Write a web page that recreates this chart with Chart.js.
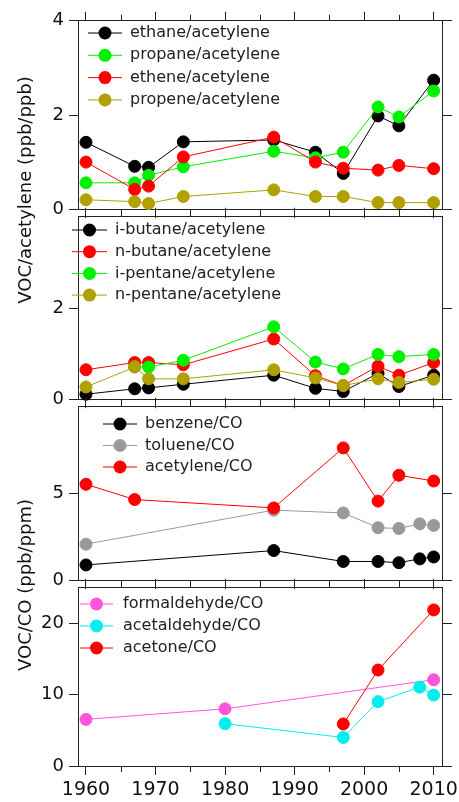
<!DOCTYPE html>
<html>
<head>
<meta charset="utf-8">
<script src="https://cdn.jsdelivr.net/npm/chart.js@4.4.0/dist/chart.umd.min.js"></script>
<style>
  body { margin: 0; background: #fff; width: 459px; height: 802px; overflow: hidden; position: relative; font-family: "DejaVu Sans", sans-serif; }
  canvas { position: absolute; left: 0; }
  .ytitle { position: absolute; font-size: 18px; color: #111; white-space: nowrap; transform: translate(-50%, -50%) rotate(-90deg); }
</style>
</head>
<body>
<canvas id="p1" width="459" height="220" style="top:5px"></canvas>
<canvas id="p2" width="459" height="214" style="top:201px"></canvas>
<canvas id="p3" width="459" height="205" style="top:391px"></canvas>
<canvas id="p4" width="459" height="230" style="top:572px"></canvas>
<div class="ytitle" style="left:24px; top:190px">VOC/acetylene (ppb/ppb)</div>
<div class="ytitle" style="left:24px; top:585px">VOC/CO (ppb/ppm)</div>
<script>
// shared x axis
const xTicks = [1960, 1970, 1980, 1990, 2000, 2010];
const xMinorTicks = [1965, 1975, 1985, 1995, 2005];

// panel 1 + 2: hydrocarbons vs acetylene
const hcYears = [1960, 1967, 1969, 1974, 1987, 1993, 1997, 2002, 2005, 2010];
const ethane  = [1.42, 0.91, 0.89, 1.43, 1.47, 1.21, 0.76, 1.98, 1.77, 2.74];
const propane = [0.56, 0.56, 0.72, 0.90, 1.23, 1.09, 1.21, 2.17, 1.96, 2.51];
const ethene  = [1.00, 0.42, 0.49, 1.11, 1.53, 1.00, 0.87, 0.83, 0.93, 0.86];
const propene = [0.20, 0.16, 0.12, 0.27, 0.41, 0.27, 0.27, 0.14, 0.14, 0.14];

const iButane  = [0.11, 0.23, 0.25, 0.33, 0.53, 0.24, 0.17, 0.57, 0.28, 0.53];
const nButane  = [0.65, 0.81, 0.81, 0.76, 1.33, 0.52, 0.30, 0.73, 0.53, 0.81];
const iPentane = [null, 0.72, 0.71, 0.86, 1.60, 0.82, 0.67, 0.99, 0.94, 0.99];
const nPentane = [0.27, 0.71, 0.45, 0.45, 0.65, 0.47, 0.30, 0.45, 0.37, 0.44];

// panel 3: aromatics / acetylene vs CO
const aroYears  = [1960, 1967, 1987, 1997, 2002, 2005, 2008, 2010];
const benzene   = [0.88, null, 1.71, 1.08, 1.08, 1.01, 1.23, 1.34];
const toluene   = [2.08, null, 4.04, 3.88, 3.03, 2.98, 3.25, 3.16];
const acetylene = [5.53, 4.65, 4.17, 7.63, 4.56, 6.05, null, 5.72];

// panel 4: oxygenates vs CO
const oxyYears     = [1960, 1980, 1997, 2002, 2008, 2010];
const formaldehyde = [6.54, 8.02, null, null, null, 12.1];
const acetaldehyde = [null, 5.94, 4.0, 9.03, 11.06, 9.95];
const acetone      = [null, null, 5.9, 13.46, null, 21.9];

const X_MIN = 1958.85, X_MAX = 2011.2;
const AXIS = '#222';

function toPoints(years, vals) {
    return years.map((yr, i) => ({ x: yr, y: vals[i] })).filter(p => p.y !== null);
}

// line + marker legend drawn inside the plot, like the original
const lineLegend = {
    id: 'lineLegend',
    afterDraw(chart, args, opts) {
        const ctx = chart.ctx;
        ctx.save();
        ctx.font = '16px "DejaVu Sans"';
        ctx.textBaseline = 'middle';
        chart.data.datasets.forEach((ds, i) => {
            const y = opts.y + i * opts.dy;
            ctx.strokeStyle = ds.borderColor;
            ctx.lineWidth = 1;
            ctx.beginPath();
            ctx.moveTo(opts.x1, y);
            ctx.lineTo(opts.x2, y);
            ctx.stroke();
            ctx.fillStyle = ds.borderColor;
            ctx.beginPath();
            ctx.arc((opts.x1 + opts.x2) / 2, y, 6.5, 0, Math.PI * 2);
            ctx.fill();
            ctx.fillStyle = '#222';
            ctx.fillText(ds.label, opts.tx, y);
        });
        ctx.restore();
    }
};

// short ticks every 5 years on top and bottom edges
const minorTicks = {
    id: 'minorTicks',
    afterDraw(chart) {
        const { ctx, chartArea: a } = chart;
        const x = chart.scales.x;
        ctx.save();
        ctx.strokeStyle = AXIS;
        ctx.lineWidth = 1;
        xMinorTicks.forEach(v => {
            const px = Math.round(x.getPixelForValue(v)) + 0.5;
            ctx.beginPath();
            ctx.moveTo(px, a.top - 6);
            ctx.lineTo(px, a.top);
            ctx.moveTo(px, a.bottom);
            ctx.lineTo(px, a.bottom + 6);
            ctx.stroke();
        });
        ctx.restore();
    }
};

function makePanel(id, p) {
    const grid = { drawOnChartArea: false, color: AXIS, tickLength: 9, tickWidth: 1 };
    const border = { color: AXIS, width: 1 };
    const fixTicks = list => (s => { s.ticks = list.map(v => ({ value: v })); });
    // keep every panel's plot area the same width, whatever the labels need
    const fitX = h => (s => { s.height = h; s.paddingLeft = 0; s.paddingRight = 0; });

    const datasets = p.series.map(s => ({
        label: s.label,
        data: toPoints(p.years, s.values),
        borderColor: s.color,
        backgroundColor: s.color,
        pointBackgroundColor: s.color,
        pointBorderColor: s.color,
        pointRadius: 6,
        pointBorderWidth: 1,
        borderWidth: 1,
        tension: 0,
        clip: false,
        order: s.order
    }));

    new Chart(document.getElementById(id), {
        type: 'line',
        data: { datasets: datasets },
        options: {
            responsive: false,
            animation: false,
            devicePixelRatio: 1,
            layout: { padding: 0 },
            plugins: {
                legend: { display: false },
                tooltip: { enabled: false },
                lineLegend: p.legend
            },
            scales: {
                x: {
                    type: 'linear', position: 'bottom', min: X_MIN, max: X_MAX,
                    afterBuildTicks: fixTicks(xTicks),
                    afterFit: fitX(p.bottomH),
                    grid: grid, border: border,
                    ticks: {
                        display: p.showX, color: '#111', padding: 4, maxRotation: 0,
                        font: { family: 'DejaVu Sans', size: 19 },
                        callback: v => String(v)
                    }
                },
                xTop: {
                    type: 'linear', position: 'top', min: X_MIN, max: X_MAX,
                    afterBuildTicks: fixTicks(xTicks),
                    afterFit: fitX(12),
                    grid: grid, border: border,
                    ticks: { display: false }
                },
                y: {
                    type: 'linear', position: 'left', min: 0, max: p.yMax,
                    afterBuildTicks: fixTicks(p.yTicks),
                    afterFit: s => { s.width = 78; },
                    grid: grid, border: border,
                    ticks: {
                        color: '#111', padding: 5,
                        font: { family: 'DejaVu Sans', size: 18 },
                        callback: v => String(v)
                    }
                },
                yRight: {
                    type: 'linear', position: 'right', min: 0, max: p.yMax,
                    afterBuildTicks: fixTicks(p.yTicks),
                    afterFit: s => { s.width = 17; },
                    grid: Object.assign({}, grid, { tickLength: 10 }), border: border,
                    ticks: { display: false }
                }
            }
        },
        plugins: [lineLegend, minorTicks]
    });
}

makePanel('p1', {
    years: hcYears, yMax: 4, yTicks: [0, 2, 4], bottomH: 12, showX: false,
    legend: { x1: 88, x2: 122, tx: 130, y: 28, dy: 22.3 },
    series: [
        { label: 'ethane/acetylene',  values: ethane,  color: '#000000', order: 4 },
        { label: 'propane/acetylene', values: propane, color: '#00f000', order: 3 },
        { label: 'ethene/acetylene',  values: ethene,  color: '#ff0000', order: 2 },
        { label: 'propene/acetylene', values: propene, color: '#b0a000', order: 1 }
    ]
});

makePanel('p2', {
    years: hcYears, yMax: 4.03, yTicks: [0, 2], bottomH: 12, showX: false,
    legend: { x1: 72, x2: 107, tx: 115, y: 29, dy: 21.7 },
    series: [
        { label: 'i-butane/acetylene',  values: iButane,  color: '#000000', order: 4 },
        { label: 'n-butane/acetylene',  values: nButane,  color: '#ff0000', order: 3 },
        { label: 'i-pentane/acetylene', values: iPentane, color: '#00f000', order: 2 },
        { label: 'n-pentane/acetylene', values: nPentane, color: '#b0a000', order: 1 }
    ]
});

makePanel('p3', {
    years: aroYears, yMax: 10, yTicks: [0, 5], bottomH: 12, showX: false,
    legend: { x1: 103, x2: 137, tx: 145, y: 33, dy: 21.5 },
    series: [
        { label: 'benzene/CO',   values: benzene,   color: '#000000', order: 3 },
        { label: 'toluene/CO',   values: toluene,   color: '#999999', order: 2 },
        { label: 'acetylene/CO', values: acetylene, color: '#ff0000', order: 1 }
    ]
});

makePanel('p4', {
    years: oxyYears, yMax: 25, yTicks: [0, 10, 20], bottomH: 36, showX: true,
    legend: { x1: 80, x2: 113, tx: 123, y: 32, dy: 22 },
    series: [
        { label: 'formaldehyde/CO', values: formaldehyde, color: '#ff55dd', order: 3 },
        { label: 'acetaldehyde/CO', values: acetaldehyde, color: '#00eeee', order: 2 },
        { label: 'acetone/CO',      values: acetone,      color: '#ff0000', order: 1 }
    ]
});
</script>
</body>
</html>
